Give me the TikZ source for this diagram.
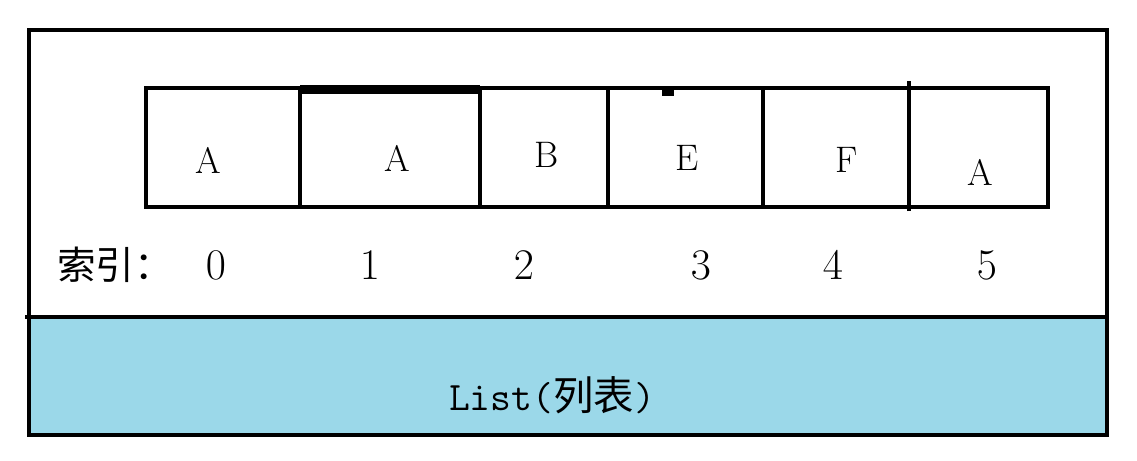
\documentclass[tikz,border=0pt]{standalone}
\usepackage{fontspec}
\newfontfamily\cjk{Noto Sans CJK SC}
\definecolor{listblue}{RGB}{155,216,233}
\tikzset{
    item/.style = {font = \fontsize{21}{24}\selectfont},
    index/.style = {font = \fontsize{23}{26}\selectfont}
}
\begin{document}
\begin{tikzpicture}[line width = 0.09cm]
        \useasboundingbox (0,0) rectangle (22.74,9.2);
        % list body
        \fill[listblue] (0.58,0.5) rectangle (22.14,2.86);
        \draw (0.58,0.5) rectangle (22.14,8.6);
        \draw (0.5,2.86) -- (22.14,2.86);
        \node[font = \fontsize{23}{26}\selectfont] (title) at (11.04,1.3) {\ttfamily List(\cjk 列表\ttfamily )};
        % cells
        \foreach \a/\b in {2.92/6.0, 6.0/9.6, 9.6/12.16, 12.16/15.26, 15.26/18.18, 18.18/20.96} {
            \draw (\a,5.06) rectangle (\b,7.44);
        }
        \fill (6.0,7.32) rectangle (9.6,7.5);
        \fill (13.24,7.28) rectangle (13.48,7.44);
        \draw (18.18,4.98) -- (18.18,7.58);
        \begin{scope}[every node/.append style = {item}]
            \foreach \x/\y/\t [count = \i from 0] in {4.16/6.0/A, 7.94/6.04/A, 10.94/6.1/B, 13.74/6.04/E, 16.94/6.0/F, 19.6/5.76/A} {
                \node (cell\i) at (\x,\y) {\t};
            }
        \end{scope}
        % indices
        \node[font = \fontsize{22}{26}\selectfont\cjk] (label) at (2.3,3.9) {索引：};
        \begin{scope}[every node/.append style = {index}]
            \foreach \x [count = \i from 0] in {4.32, 7.4, 10.48, 14.02, 16.66, 19.74} {
                \node (idx\i) at (\x,3.9) {$\i$};
            }
        \end{scope}
    \end{tikzpicture}
\end{document}
